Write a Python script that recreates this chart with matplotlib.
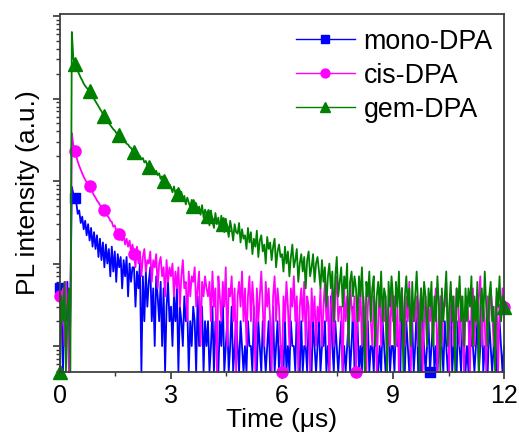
import numpy as np
import matplotlib
matplotlib.use('Agg')
import matplotlib.pyplot as plt
from matplotlib.ticker import LogLocator, NullFormatter, MultipleLocator

plt.rcParams['font.family'] = ['Liberation Sans', 'DejaVu Sans']

# time grid of the decay histogram (us), one bin every 0.04 us
time_us = np.linspace(0, 12, 301)

# photon counts, one row per microsecond (25 bins each)
mono_dpa = [
    5, 3, 0, 4, 2, 6, 1, 3, 85, 70, 62, 55, 40, 44, 31, 37, 26, 33, 22, 30, 19, 27, 16, 24, 15,
    22, 12, 20, 11, 18, 9, 17, 10, 15, 7, 16, 8, 14, 6, 13, 9, 12, 5, 11, 7, 12, 4, 10, 6, 9,
    9, 3, 8, 5, 10, 0, 7, 2, 8, 3, 6, 9, 2, 5, 1, 7, 4, 2, 6, 1, 5, 0, 3, 6, 2,
    3, 1, 4, 2, 5, 0, 3, 2, 1, 4, 2, 3, 0, 2, 1, 3, 2, 0, 4, 1, 2, 3, 0, 2, 1,
    2, 0, 1, 3, 0, 2, 1, 0, 2, 1, 4, 0, 1, 2, 0, 1, 3, 0, 1, 2, 1, 0, 2, 1, 0,
    1, 0, 2, 1, 1, 0, 3, 1, 0, 2, 1, 0, 2, 1, 0, 1, 2, 0, 1, 3, 0, 1, 2, 0, 1,
    1, 0, 2, 0, 1, 0, 2, 1, 1, 0, 3, 1, 0, 2, 0, 1, 1, 0, 2, 1, 0, 2, 1, 0, 1,
    2, 0, 1, 1, 2, 0, 1, 0, 4, 1, 0, 2, 1, 0, 1, 2, 0, 1, 0, 1, 2, 0, 1, 3, 0,
    1, 2, 0, 1, 0, 3, 0, 1, 2, 0, 1, 1, 0, 2, 1, 0, 1, 0, 2, 1, 0, 1, 2, 0, 1,
    1, 0, 2, 1, 1, 0, 5, 1, 0, 2, 1, 0, 1, 2, 0, 1, 3, 0, 1, 0, 2, 1, 0, 1, 2,
    0, 1, 2, 0, 1, 0, 1, 2, 1, 0, 2, 1, 0, 1, 3, 0, 1, 1, 0, 2, 1, 0, 2, 1, 0,
    1, 0, 2, 1, 1, 0, 1, 2, 0, 1, 3, 0, 1, 1, 0, 2, 1, 0, 1, 2, 0, 1, 2, 1, 0,
    1,
]
cis_dpa = [
    4, 2, 5, 1, 6, 3, 0, 2, 380, 270, 228, 198, 172, 152, 137, 124, 113, 104, 97, 92, 87, 79, 73, 67, 63,
    58, 55, 51, 49, 46, 45, 40, 38, 36, 33, 32, 28, 29, 25, 26, 23, 24, 19, 22, 17, 20, 16, 19, 14, 17,
    13, 9, 16, 10, 14, 7, 12, 15, 8, 11, 10, 14, 6, 11, 9, 13, 5, 10, 12, 7, 9, 4, 11, 6, 9,
    7, 10, 4, 8, 5, 9, 3, 7, 11, 5, 6, 2, 8, 4, 7, 6, 9, 3, 5, 8, 1, 6, 4, 7, 5,
    4, 6, 2, 8, 3, 5, 0, 7, 4, 2, 6, 3, 9, 1, 5, 4, 7, 2, 5, 0, 4, 6, 3, 8, 2,
    5, 1, 4, 7, 2, 6, 3, 0, 5, 2, 4, 8, 3, 1, 6, 3, 5, 2, 0, 4, 7, 2, 5, 3, 1,
    0, 4, 2, 6, 3, 1, 5, 3, 7, 2, 4, 0, 3, 5, 2, 6, 1, 4, 3, 0, 5, 2, 4, 1, 3,
    2, 5, 1, 3, 6, 2, 4, 0, 3, 5, 1, 4, 7, 2, 3, 3, 0, 5, 2, 4, 1, 6, 3, 2, 4,
    0, 3, 2, 5, 1, 4, 2, 0, 3, 6, 2, 1, 4, 3, 0, 2, 5, 1, 3, 2, 4, 0, 3, 1, 5,
    2, 4, 1, 3, 0, 3, 5, 2, 1, 4, 2, 6, 0, 3, 2, 2, 4, 1, 3, 5, 0, 2, 4, 1, 3,
    2, 4, 1, 3, 5, 0, 2, 4, 1, 3, 3, 6, 2, 0, 3, 4, 1, 2, 5, 3, 1, 4, 2, 0, 3,
    4, 2, 0, 3, 5, 1, 3, 2, 4, 7, 1, 3, 2, 0, 4, 2, 5, 3, 1, 2, 4, 0, 3, 2, 5,
    3,
]
gem_dpa = [
    0, 4, 2, 6, 0, 3, 5, 0, 6400, 3100, 2600, 2370, 2150, 1960, 1790, 1660, 1520, 1420, 1350, 1290,
    1230, 1140, 1060, 990, 920,
    860, 805, 748, 702, 650, 612, 574, 541, 503, 476, 452, 425, 409, 383, 374, 358, 340, 331, 308, 302,
    283, 277, 259, 252, 236,
    226, 211, 219, 196, 201, 183, 190, 168, 175, 155, 149, 158, 136, 142, 127, 133, 118, 124, 106, 114,
    101, 97, 104, 86, 91,
    84, 73, 86, 70, 78, 69, 62, 74, 57, 66, 52, 63, 55, 48, 59, 50, 44, 54, 41, 49, 39, 51, 36, 45, 40,
    38, 29, 44, 33, 27, 41, 30, 36, 25, 38, 30, 24, 35, 27, 21, 33, 26, 19, 30, 24, 23, 31, 18, 26, 20,
    22, 15, 27, 18, 24, 13, 20, 16, 25, 12, 19, 22, 14, 17, 10, 21, 15, 18, 11, 16, 20, 9, 14, 17, 12,
    13, 8, 16, 10, 14, 7, 12, 17, 9, 11, 15, 6, 10, 13, 8, 12, 5, 11, 14, 7, 9, 13, 6, 10, 12,
    8, 5, 11, 6, 9, 3, 7, 10, 5, 8, 2, 7, 12, 4, 6, 9, 3, 7, 5, 10, 1, 6, 8, 4, 7,
    5, 2, 7, 4, 9, 3, 0, 6, 4, 8, 2, 5, 7, 1, 4, 6, 3, 8, 2, 5, 4, 0, 6, 3, 7,
    4, 1, 6, 3, 8, 2, 5, 0, 4, 7, 3, 5, 1, 6, 2, 4, 8, 3, 0, 5, 2, 6, 4, 1, 5,
    3, 6, 1, 4, 2, 7, 3, 0, 5, 2, 4, 8, 1, 3, 6, 2, 4, 0, 5, 3, 7, 2, 4, 1, 5,
    2, 5, 3, 7, 1, 4, 2, 6, 0, 3, 5, 2, 8, 3, 1, 4, 6, 2, 3, 0, 5, 3, 7, 2, 4,
    3,
]

labels = ['mono-DPA', 'cis-DPA', 'gem-DPA']
colors = ['#0000ff', '#ff00ff', '#008000']
markers = ['s', 'o', '^']
msizes = [7, 8, 9.5]
# bins whose symbols stay visible (the rest are buried in the noise)
mark_bins = [
    [0, 10, 250],
    [0, 10, 20, 30, 40, 50, 150, 200, 300],
    [0, 10, 20, 30, 40, 50, 60, 70, 80, 90, 100, 110, 300],
]

y_bottom = 10 ** -0.315
y_top = 10 ** 4.024

fig = plt.figure(figsize=(5.19, 4.40), dpi=100)
ax = fig.add_axes([0.1156, 0.1545, 0.8555, 0.8136])

for counts, lab, col, mk, ms, mev in zip([mono_dpa, cis_dpa, gem_dpa], labels, colors,
                                          markers, msizes, mark_bins):
    y = np.maximum(np.array(counts, dtype=float), y_bottom)  # empty bins sit on the axis
    ax.plot(time_us, y, color=col, lw=1.3, marker=mk, ms=ms, markevery=mev,
            mec=col, mfc=col, label=lab, clip_on=False)

ax.set_yscale('log')
ax.set_xlim(0, 12)
ax.set_ylim(y_bottom, y_top)
ax.xaxis.set_major_locator(MultipleLocator(3))
ax.xaxis.set_minor_locator(MultipleLocator(1.5))
ax.yaxis.set_major_locator(LogLocator(base=10, numticks=10))
ax.yaxis.set_minor_locator(LogLocator(base=10, subs=np.arange(2, 10), numticks=10))
ax.yaxis.set_major_formatter(NullFormatter())
ax.yaxis.set_minor_formatter(NullFormatter())

ax.tick_params(which='major', direction='out', length=5, width=1.2, labelsize=18,
               top=False, right=False, color='#333333')
ax.tick_params(which='minor', direction='out', length=3, width=1.0,
               top=False, right=False, color='#333333')
for sp in ax.spines.values():
    sp.set_linewidth(1.3)
    sp.set_color('#404040')

ax.set_xlabel('Time (μs)', fontsize=19, labelpad=0)
ax.set_ylabel('PL intensity (a.u.)', fontsize=19, labelpad=6)

leg = ax.legend(loc='upper right', bbox_to_anchor=(1.008, 1.0), frameon=False, fontsize=19.3,
                handlelength=2.2, handletextpad=0.33, labelspacing=0.3, borderaxespad=0.15,
                markerscale=0.8)
for h in leg.get_lines():
    h.set_linewidth(1.0)

fig.savefig('out.png', dpi=100)
